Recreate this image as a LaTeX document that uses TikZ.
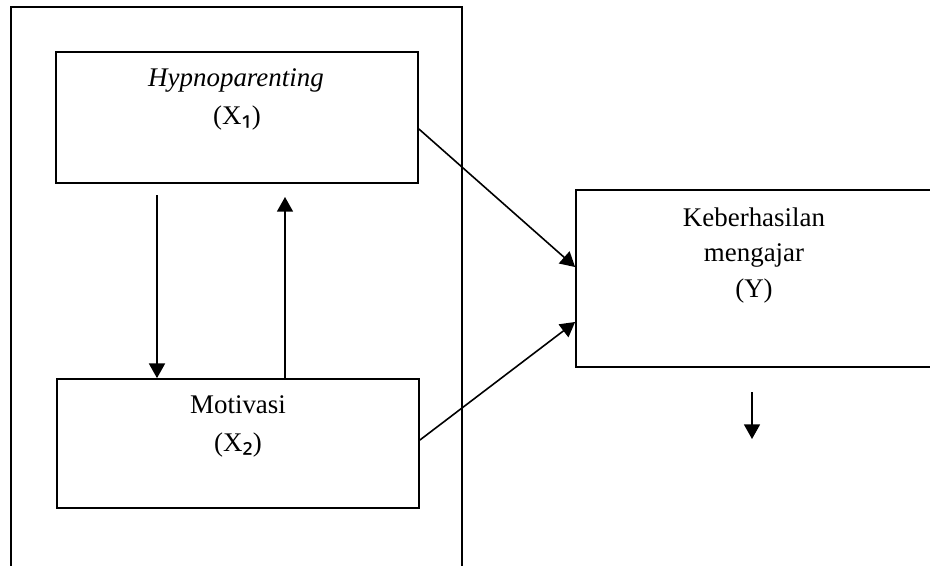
\documentclass[tikz,border=0pt]{standalone}
\usepackage{fontspec}
\setmainfont{Liberation Serif}
\newfontfamily\subfnt{Noto Sans}
\usetikzlibrary{arrows.meta}
\begin{document}
\begin{tikzpicture}[x=0.75pt,y=-0.75pt,
  box/.style={draw, line width=1.3pt, rectangle, inner sep=0pt},
  frame/.style={line width=1.3pt},
  txt/.style={anchor=base, inner sep=0pt, font=\fontsize{20.2}{24}\selectfont},
  conn/.style={line width=1.2pt, -{Triangle[length=11pt,width=12pt]}}]
\useasboundingbox (0,0) rectangle (930,565);
\clip (0,0) rectangle (930,565);
% outer frame (open at the bottom)
\draw[frame] (11,600) -- (11,7) -- (462,7) -- (462,600);
% boxes
\node[box, minimum width=271.5pt, minimum height=98.25pt] (x1) at (237,117.5) {};
\node[box, minimum width=271.5pt, minimum height=96.75pt] (x2) at (238,443.5) {};
\node[box, minimum width=288pt, minimum height=132.75pt] (y) at (768,278.5) {};
% texts
\node[txt] (t1a) at (236,86) {\itshape Hypnoparenting};
\node[txt] (t1b) at (237,124) {(X{\subfnt\fontsize{22}{24}\selectfont ₁})};
\node[txt] (t2a) at (238,413) {Motivasi};
\node[txt] (t2b) at (238,451) {(X{\subfnt\fontsize{22}{24}\selectfont ₂})};
\node[txt] (t3a) at (754,226) {Keberhasilan};
\node[txt] (t3b) at (754,261) {mengajar};
\node[txt] (t3c) at (754,297) {(Y)};
% free ends
\coordinate (d1) at (157,195);
\coordinate (u1) at (285,197);
\coordinate (s1) at (752,392);
\coordinate (s2) at (752,439);
% connectors
\draw[conn] (d1) -- (d1 |- x2.north);
\draw[conn] (u1 |- x2.north) -- (u1);
\draw[conn] ([yshift=-8.6pt]x1.east) -- ([yshift=8.6pt]y.west);
\draw[conn] ([yshift=2.6pt]x2.east) -- ([yshift=-32.6pt]y.west);
\draw[conn] (s1) -- (s2);
\end{tikzpicture}
\end{document}
